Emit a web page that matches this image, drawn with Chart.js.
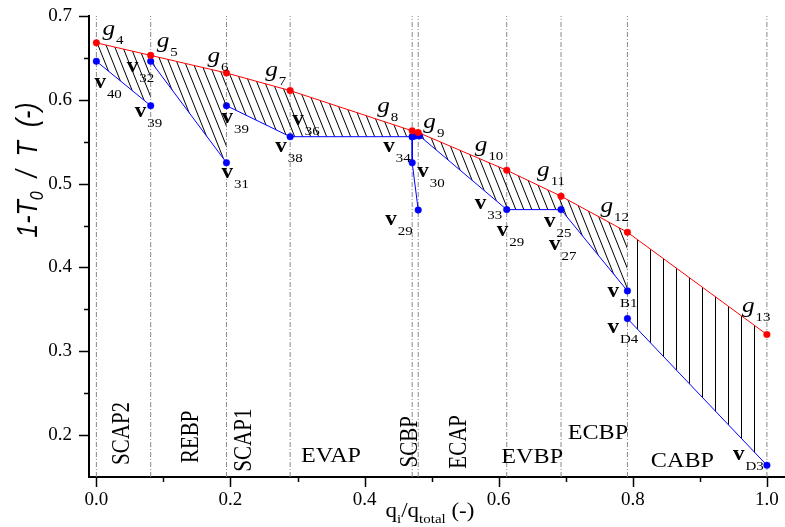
<!DOCTYPE html>
<html>
<head>
<meta charset="utf-8">
<script src="https://cdn.jsdelivr.net/npm/chart.js@4.4.1/dist/chart.umd.min.js"></script>
<style>
  html, body { margin: 0; padding: 0; background: #fff; }
</style>
</head>
<body>
<canvas id="exergyChart" width="785" height="527"></canvas>
<script>
// stage boundaries on the q_i/q_total axis
const stageX = [0, 0.081, 0.194, 0.289, 0.471, 0.480, 0.612, 0.693, 0.792, 1.0];
const stageNames = ['SCAP2', 'REBP', 'SCAP1', 'EVAP', 'SCBP', 'ECAP', 'EVBP', 'ECBP', 'CABP'];

// red curve (g states)
const gNames = ['4', '5', '6', '7', '8', '9', '10', '11', '12', '13'];
const gX = [0, 0.081, 0.194, 0.289, 0.471, 0.480, 0.612, 0.693, 0.792, 1.0];
const gY = [0.668, 0.653, 0.632, 0.611, 0.563, 0.561, 0.516, 0.485, 0.442, 0.320];

// blue curve pieces (v states)
const scap2X = [0, 0.081];
const scap2Y = [0.646, 0.593];
const rebpX = [0.081, 0.194];
const rebpY = [0.646, 0.525];
const evapX = [0.194, 0.289, 0.471];
const evapY = [0.593, 0.556, 0.556];
const scbpX = [0.471, 0.471, 0.480];
const scbpY = [0.556, 0.525, 0.4685];
const evbpX = [0.476, 0.482, 0.612, 0.693, 0.792];
const evbpY = [0.557, 0.557, 0.469, 0.469, 0.372];
const cabpX = [0.792, 1.0];
const cabpY = [0.339, 0.164];

// axes
const xTicks = [0, 0.1, 0.2, 0.3, 0.4, 0.5, 0.6, 0.7, 0.8, 0.9, 1.0];
const xTickLabels = ['0.0', '', '0.2', '', '0.4', '', '0.6', '', '0.8', '', '1.0'];
const yTicks = [0.2, 0.25, 0.3, 0.35, 0.4, 0.45, 0.5, 0.55, 0.6, 0.65, 0.7];
const yTickLabels = ['0.2', '', '0.3', '', '0.4', '', '0.5', '', '0.6', '', '0.7'];

const SERIF = '"Liberation Serif", "Times New Roman", serif';
const SANS = '"Liberation Sans", Arial, sans-serif';
const STRETCH = 1.15;

// label placement: [text, x, y, vertical]
const stageNotes = [
  [stageNames[0], 0.039, 0.202, true],
  [stageNames[1], 0.142, 0.198, true],
  [stageNames[2], 0.221, 0.194, true],
  [stageNames[3], 0.350, 0.175, false],
  [stageNames[4], 0.469, 0.192, true],
  [stageNames[5], 0.542, 0.192, true],
  [stageNames[6], 0.650, 0.173, false],
  [stageNames[7], 0.748, 0.202, false],
  [stageNames[8], 0.874, 0.168, false]
];

// offsets (px) of the g labels from their points
const gOffsets = [[6, -8], [6, -8], [-19, -11], [-25, -15], [-35, -19], [5, -5], [-32, -19], [-24, -20], [-27, -20], [-25, -23]];

const pointNotes = gNames.map((n, i) => ['g', n, gX[i], gY[i], gOffsets[i][0], gOffsets[i][1]]).concat([
  ['v', '40', scap2X[0], scap2Y[0], -2, 27],
  ['v', '39', scap2X[1], scap2Y[1], -16, 11],
  ['v', '32', rebpX[0], rebpY[0], -24, 11],
  ['v', '31', rebpX[1], rebpY[1], -5, 15],
  ['v', '39', evapX[0], evapY[0], -5, 17],
  ['v', '36', evapX[1], evapY[1], 2, -12],
  ['v', '38', evapX[1], evapY[1], -15, 15],
  ['v', '34', evapX[2], evapY[2], -29, 15],
  ['v', '30', scbpX[1], scbpY[1], 5, 14],
  ['v', '29', scbpX[2], scbpY[2], -33, 15],
  ['v', '33', evbpX[2], evbpY[2], -32, -1],
  ['v', '29', evbpX[2], evbpY[2], -10, 26],
  ['v', '25', evbpX[3], evbpY[3], -17, 17],
  ['v', '27', evbpX[3], evbpY[3], -12, 40],
  ['v', 'B1', evbpX[4], evbpY[4], -20, 6],
  ['v', 'D4', cabpX[0], cabpY[0], -20, 14],
  ['v', 'D3', cabpX[1], cabpY[1], -34, -5]
]);

function slantHatch(w, h) {
  const c = document.createElement('canvas');
  c.width = w; c.height = h;
  const g = c.getContext('2d');
  g.strokeStyle = '#000';
  g.lineWidth = 1;
  for (const o of [-w, 0, w]) {
    g.beginPath(); g.moveTo(o, 0); g.lineTo(o + w, h); g.stroke();
  }
  return g.createPattern(c, 'repeat');
}

function verticalHatch(w) {
  const c = document.createElement('canvas');
  c.width = w; c.height = 4;
  const g = c.getContext('2d');
  g.strokeStyle = '#000';
  g.lineWidth = 1;
  g.beginPath(); g.moveTo(0.5, 0); g.lineTo(0.5, 4); g.stroke();
  return g.createPattern(c, 'repeat');
}

const slant = slantHatch(8, 20);
const vert = verticalHatch(13);

const pts = (xs, ys) => xs.map((x, i) => ({x: x, y: ys[i]}));

function blue(xs, ys, fillPattern) {
  return {
    data: pts(xs, ys),
    borderColor: '#0000ff',
    borderWidth: 1,
    backgroundColor: fillPattern || 'rgba(0,0,0,0)',
    fill: fillPattern ? 0 : false,
    pointRadius: 3.3,
    pointBorderWidth: 0.5,
    pointBackgroundColor: '#0000ff',
    pointBorderColor: '#0000ff'
  };
}

const dividerData = [];
stageX.forEach(x => { dividerData.push({x: x, y: 0.15}, {x: x, y: 0.7}, {x: x, y: null}); });

function measure(ctx, text, font) {
  ctx.save();
  ctx.font = font;
  const w = ctx.measureText(text).width;
  ctx.restore();
  return w;
}

function drawStretched(ctx, text, x, y, font, rotate) {
  ctx.save();
  ctx.font = font;
  ctx.translate(x, y);
  ctx.scale(STRETCH, 1);
  if (rotate) ctx.rotate(-Math.PI / 2);
  ctx.fillText(text, 0, 0);
  ctx.restore();
}

function noPad(s) {
  s.paddingLeft = 0; s.paddingRight = 0; s.paddingTop = 0; s.paddingBottom = 0;
}

const notesPlugin = {
  id: 'notes',
  afterDraw(chart) {
    const ctx = chart.ctx;
    const xs = chart.scales.x, ys = chart.scales.y;
    ctx.save();
    ctx.fillStyle = '#000';

    // tick marks
    ctx.strokeStyle = '#000';
    ctx.lineWidth = 1.5;
    const bottom = chart.chartArea.bottom, left = chart.chartArea.left;
    xTicks.forEach((v, i) => {
      const px = Math.round(xs.getPixelForValue(v)) + 0.5;
      const len = xTickLabels[i] ? 10 : 5;
      ctx.beginPath(); ctx.moveTo(px, bottom); ctx.lineTo(px, bottom + len); ctx.stroke();
    });
    yTicks.forEach((v, i) => {
      const py = Math.round(ys.getPixelForValue(v)) + 0.5;
      const len = yTickLabels[i] ? 10 : 5;
      ctx.beginPath(); ctx.moveTo(left - len, py); ctx.lineTo(left, py); ctx.stroke();
    });

    // stage names
    ctx.textBaseline = 'middle';
    ctx.textAlign = 'center';
    stageNotes.forEach(([t, x, y, vertical]) => {
      drawStretched(ctx, t, xs.getPixelForValue(x), ys.getPixelForValue(y), '21px ' + SERIF, vertical);
    });

    // point labels with subscripts
    ctx.textBaseline = 'alphabetic';
    ctx.textAlign = 'left';
    pointNotes.forEach(([m, s, x, y, dx, dy]) => {
      const px = xs.getPixelForValue(x) + dx;
      const py = ys.getPixelForValue(y) + dy;
      const mainFont = m === 'g' ? 'italic 22px ' + SERIF : 'bold 20px ' + SERIF;
      drawStretched(ctx, m, px, py, mainFont, false);
      const w = measure(ctx, m, mainFont) * STRETCH;
      drawStretched(ctx, s, px + w + 1, py + (m === 'g' ? 9 : 10), '13px ' + SERIF, false);
    });

    // x title: q_i/q_total (-)
    const xParts = [['q', '20px ' + SERIF, 0], ['i', '13px ' + SERIF, 6], ['/q', '20px ' + SERIF, 0], ['total', '13px ' + SERIF, 6], [' (-)', '20px ' + SERIF, 0]];
    let total = 0;
    xParts.forEach(p => { total += measure(ctx, p[0], p[1]) * STRETCH; });
    let cx = 430 - total / 2;
    xParts.forEach(p => {
      drawStretched(ctx, p[0], cx, 517 + p[2], p[1], false);
      cx += measure(ctx, p[0], p[1]) * STRETCH;
    });

    // y title: 1-T_0 / T (-)
    const big = 'italic 25px ' + SANS;
    const yParts = [['1-T', big, 0], ['0', 'italic 16px ' + SANS, 5], ['  /  ', big, 0], ['T', big, 0], ['  (-)', big, 0]];
    let ylen = 0;
    yParts.forEach(p => { ylen += measure(ctx, p[0], p[1]); });
    ctx.save();
    ctx.translate(37, 170);
    ctx.scale(STRETCH, 1);
    ctx.rotate(-Math.PI / 2);
    let lx = -ylen / 2;
    yParts.forEach(p => {
      ctx.font = p[1];
      ctx.fillText(p[0], lx, p[2]);
      lx += ctx.measureText(p[0]).width;
    });
    ctx.restore();

    ctx.restore();
  }
};

new Chart(document.getElementById('exergyChart'), {
  type: 'line',
  data: {
    datasets: [
      {
        data: pts(gX, gY),
        borderColor: '#ff0000',
        borderWidth: 1,
        fill: false,
        pointRadius: 3.3,
        pointBorderWidth: 0.5,
        pointBackgroundColor: '#ff0000',
        pointBorderColor: '#ff0000'
      },
      blue(scap2X, scap2Y, slant),
      blue(rebpX, rebpY, slant),
      blue(evapX, evapY, slant),
      blue(scbpX, scbpY, null),
      blue(evbpX, evbpY, slant),
      blue(cabpX, cabpY, vert),
      {
        data: dividerData,
        borderColor: '#888888',
        borderWidth: 1,
        borderDash: [5, 2, 1, 2],
        fill: false,
        pointRadius: 0,
        spanGaps: false
      }
    ]
  },
  options: {
    responsive: false,
    animation: false,
    events: [],
    layout: { autoPadding: false, padding: { top: 16, left: 0, right: 0, bottom: 0 } },
    plugins: { legend: { display: false }, tooltip: { enabled: false } },
    scales: {
      x: {
        type: 'linear',
        min: -0.011,
        max: 1.027,
        afterBuildTicks: s => { s.ticks = xTicks.map(v => ({value: v})); },
        afterFit: s => { s.height = 50; noPad(s); },
        grid: { display: true, drawOnChartArea: false, drawTicks: false },
        border: { display: true, color: '#000', width: 2 },
        ticks: {
          autoSkip: false, maxRotation: 0, padding: 12, color: '#000',
          font: { family: SERIF, size: 19 },
          callback: (v, i) => xTickLabels[i]
        }
      },
      y: {
        type: 'linear',
        min: 0.15,
        max: 0.7,
        afterBuildTicks: s => { s.ticks = yTicks.map(v => ({value: v})); },
        afterFit: s => { s.width = 89; noPad(s); },
        grid: { display: true, drawOnChartArea: false, drawTicks: false },
        border: { display: true, color: '#000', width: 2 },
        ticks: {
          autoSkip: false, padding: 17, color: '#000',
          font: { family: SERIF, size: 19 },
          callback: (v, i) => yTickLabels[i]
        }
      }
    }
  },
  plugins: [notesPlugin]
});
</script>
</body>
</html>
